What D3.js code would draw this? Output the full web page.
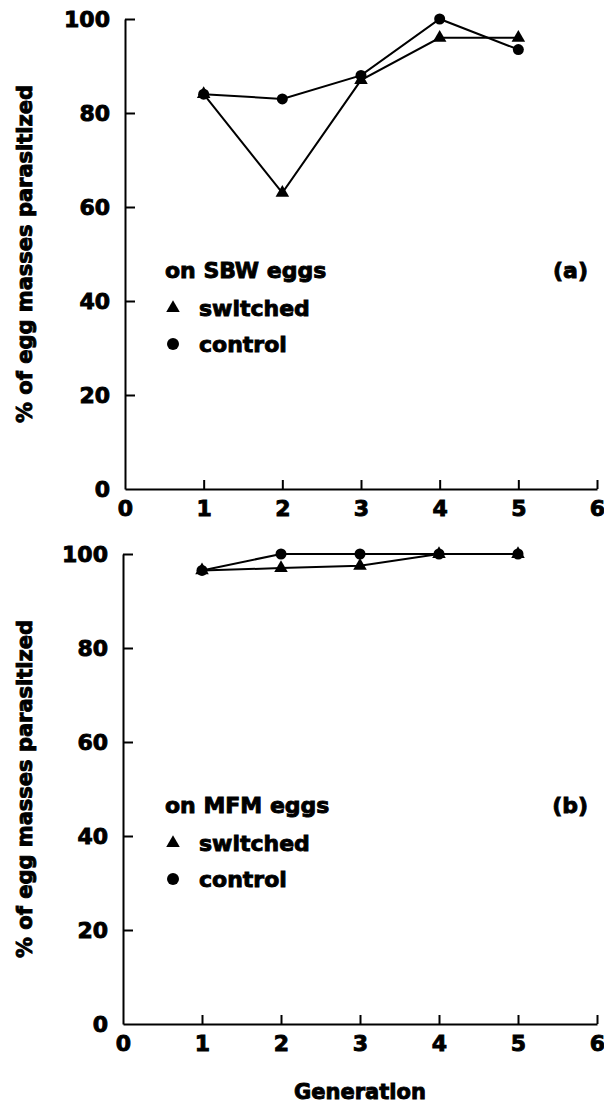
<!DOCTYPE html>
<html>
<head>
<meta charset="utf-8">
<script src="https://cdn.jsdelivr.net/npm/d3@7"></script>
<style>
  body { margin: 0; background: #fff; }
  svg text { font-family: "DejaVu Sans", sans-serif; font-weight: bold; fill: #000; }
</style>
</head>
<body>
<div id="chart"></div>
<script>
// data
var generations = [1, 2, 3, 4, 5];
var xTicks = [0, 1, 2, 3, 4, 5, 6];
var yTicks = [0, 20, 40, 60, 80, 100];

// (a) on SBW eggs
var sbwSwitched = [84, 63, 87, 96, 96];
var sbwControl = [84, 83, 88, 100, 93.5];

// (b) on MFM eggs
var mfmSwitched = [96.5, 97, 97.5, 100, 100];
var mfmControl = [96.5, 100, 100, 100, 100];

var width = 604, height = 1111;

var svg = d3.select("#chart").append("svg")
    .attr("width", width)
    .attr("height", height);

var tri = d3.symbol().type(d3.symbolTriangle).size(80);
var heavy = 0.9; // thickens the letters a bit, the print face is very black

function drawPanel(p) {
  var x = d3.scaleLinear().domain([0, 6]).range([p.left, 597]);
  var y = d3.scaleLinear().domain([0, 100]).range([p.bottom, p.top]);

  var g = svg.append("g");

  // y axis, ticks point inward
  var ya = g.append("g")
      .attr("transform", "translate(" + p.left + ",0)")
      .call(d3.axisLeft(y).tickValues(yTicks).tickFormat(d3.format("d"))
        .tickSizeInner(-10).tickSizeOuter(0).tickPadding(15));
  // x axis, ticks point up
  var xa = g.append("g")
      .attr("transform", "translate(0," + p.bottom + ")")
      .call(d3.axisBottom(x).tickValues(xTicks).tickFormat(d3.format("d"))
        .tickSizeInner(-9).tickSizeOuter(0).tickPadding(11));

  [ya, xa].forEach(function(a) {
    a.select(".domain").attr("stroke", "#000").attr("stroke-width", 2);
    a.selectAll(".tick line").attr("stroke", "#000").attr("stroke-width", 2);
    a.selectAll(".tick text")
      .style("font-size", "22px")
      .attr("stroke", "#000").attr("stroke-width", heavy);
  });
  // no tick mark at the origin
  xa.selectAll(".tick").filter(function(d) { return d === 0; }).select("line").remove();
  ya.selectAll(".tick").filter(function(d) { return d === 0; }).select("line").remove();

  var line = d3.line()
      .x(function(d, i) { return x(generations[i]); })
      .y(function(d) { return y(d); });

  [p.control, p.switched].forEach(function(s) {
    g.append("path")
      .attr("d", line(s))
      .attr("fill", "none")
      .attr("stroke", "#000")
      .attr("stroke-width", 2);
  });

  g.selectAll(".ctl")
    .data(p.control)
    .enter().append("circle")
      .attr("cx", function(d, i) { return x(generations[i]); })
      .attr("cy", function(d) { return y(d); })
      .attr("r", 5.5)
      .attr("fill", "#000");

  g.selectAll(".sw")
    .data(p.switched)
    .enter().append("path")
      .attr("d", tri)
      .attr("transform", function(d, i) { return "translate(" + x(generations[i]) + "," + y(d) + ")"; })
      .attr("fill", "#000");

  // legend
  var lg = g.append("g").style("font-size", "22px");
  lg.append("text").attr("x", 165).attr("y", p.legendY)
    .attr("stroke", "#000").attr("stroke-width", heavy)
    .text(p.title);
  lg.append("text").attr("x", 588).attr("y", p.legendY)
    .attr("text-anchor", "end")
    .attr("stroke", "#000").attr("stroke-width", heavy)
    .text(p.tag);
  lg.append("path").attr("d", tri)
    .attr("transform", "translate(173," + (p.legendY + 30) + ")");
  lg.append("text").attr("x", 199).attr("y", p.legendY + 38)
    .attr("stroke", "#000").attr("stroke-width", heavy)
    .text("switched");
  lg.append("circle").attr("cx", 173).attr("cy", p.legendY + 66).attr("r", 6);
  lg.append("text").attr("x", 199).attr("y", p.legendY + 74)
    .attr("stroke", "#000").attr("stroke-width", heavy)
    .text("control");

  // y title
  g.append("text")
    .attr("transform", "translate(32," + (p.top + p.bottom) / 2 + ") rotate(-90)")
    .attr("text-anchor", "middle")
    .style("font-size", "21px")
    .attr("stroke", "#000").attr("stroke-width", heavy)
    .text("% of egg masses parasitized");
}

drawPanel({
  left: 125, top: 19, bottom: 489, legendY: 278,
  title: "on SBW eggs", tag: "(a)",
  switched: sbwSwitched, control: sbwControl
});

drawPanel({
  left: 123, top: 554, bottom: 1024, legendY: 813,
  title: "on MFM eggs", tag: "(b)",
  switched: mfmSwitched, control: mfmControl
});

svg.append("text")
  .attr("x", 360)
  .attr("y", 1099)
  .attr("text-anchor", "middle")
  .style("font-size", "21px")
  .attr("stroke", "#000").attr("stroke-width", heavy)
  .text("Generation");
</script>
</body>
</html>
